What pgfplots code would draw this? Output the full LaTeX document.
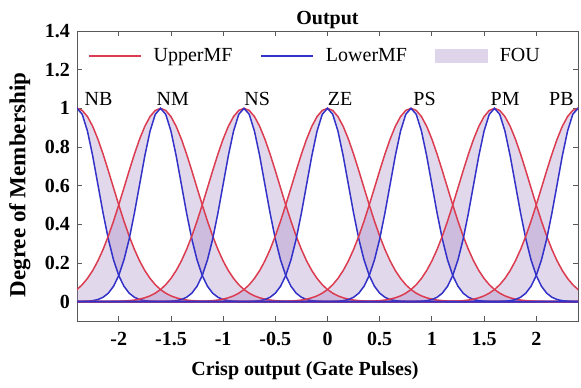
\documentclass[border=0pt]{standalone}
\usepackage{fontspec}
\setmainfont{Liberation Serif}
\usepackage{pgfplots}
\pgfplotsset{compat=1.18}
\usepackage{pgfplotstable}
\usepgfplotslibrary{fillbetween}

\definecolor{umf}{RGB}{220,60,80}
\definecolor{lmf}{RGB}{50,50,200}
\definecolor{fou}{RGB}{150,115,185}

% Interval type-2 Gaussian MF shape around its centre:
% d = offset from centre, u = upper MF, l = lower MF
\pgfplotstableread{
d      u        l
-4.80  0        0
-1.50  0.00006  0
-1.40  0.00021  0
-1.35  0.00038  0
-1.30  0.00067  0
-1.25  0.00116  0
-1.20  0.00197  0
-1.15  0.00328  0
-1.10  0.00533  0
-1.05  0.00849  0
-1.00  0.01323  0
-0.95  0.02017  0.00001
-0.90  0.03010  0.00004
-0.85  0.04394  0.00012
-0.80  0.06277  0.00034
-0.75  0.08778  0.00088
-0.70  0.12014  0.00219
-0.65  0.16084  0.00508
-0.60  0.21075  0.01111
-0.55  0.27027  0.02280
-0.50  0.33915  0.04394
-0.45  0.41649  0.07956
-0.40  0.50055  0.13534
-0.35  0.58870  0.21627
-0.30  0.67757  0.32465
-0.25  0.76315  0.45783
-0.20  0.84113  0.60653
-0.15  0.90726  0.75484
-0.10  0.95767  0.88250
-0.05  0.98925  0.96923
 0.00  1        1
 0.05  0.98925  0.96923
 0.10  0.95767  0.88250
 0.15  0.90726  0.75484
 0.20  0.84113  0.60653
 0.25  0.76315  0.45783
 0.30  0.67757  0.32465
 0.35  0.58870  0.21627
 0.40  0.50055  0.13534
 0.45  0.41649  0.07956
 0.50  0.33915  0.04394
 0.55  0.27027  0.02280
 0.60  0.21075  0.01111
 0.65  0.16084  0.00508
 0.70  0.12014  0.00219
 0.75  0.08778  0.00088
 0.80  0.06277  0.00034
 0.85  0.04394  0.00012
 0.90  0.03010  0.00004
 0.95  0.02017  0.00001
 1.00  0.01323  0
 1.05  0.00849  0
 1.10  0.00533  0
 1.15  0.00328  0
 1.20  0.00197  0
 1.25  0.00116  0
 1.30  0.00067  0
 1.35  0.00038  0
 1.40  0.00021  0
 1.50  0.00006  0
 4.80  0        0
}\mfshape

\begin{document}
\begin{tikzpicture}
\begin{axis}[
  set layers,
  scale only axis, width=250.5pt, height=145pt,
  xmin=-2.4, xmax=2.4, ymin=-0.1, ymax=1.4,
  xtick={-2,-1.5,-1,-0.5,0,0.5,1,1.5,2},
  ytick={0,0.2,0.4,0.6,0.8,1,1.2,1.4},
  /pgf/number format/assume math mode=true,
  ticklabel style={font=\bfseries},
  xticklabel style={yshift=-2pt},
  major tick length=2.5pt,
  axis line style={draw=black!65},
  every tick/.style={draw=black!65},
  title={Output},
  title style={font=\bfseries, yshift=-8.5pt},
  xlabel={Crisp output (Gate Pulses)},
  xlabel style={font=\bfseries, at={(axis description cs:0.455,-0.172)}, anchor=center},
  ylabel={Degree of Membership},
  ylabel style={font=\fontsize{11.5}{14}\selectfont\bfseries, at={(axis description cs:-0.114,0.469)}, anchor=center},
  legend style={draw=none, fill=none, at={(0.477,0.913)}, anchor=center,
    /tikz/every odd column/.append style={column sep=4pt},
    /tikz/every even column/.append style={column sep=12pt}},
  legend columns=3, legend cell align=left,
  legend image code/.code={\draw[#1] (0pt,0pt) -- (26pt,0pt);},
]
\pgfplotsinvokeforeach{0,...,6}{
  \addplot[forget plot, umf, line width=0.75pt, name path=up#1]
    table[x expr=\thisrow{d}+0.8*#1-2.4, y=u]{\mfshape};
  \addplot[forget plot, lmf, line width=0.75pt, name path=lo#1]
    table[x expr=\thisrow{d}+0.8*#1-2.4, y=l]{\mfshape};
  \addplot[forget plot, fill=fou, fill opacity=0.28, draw=none]
    fill between[of=up#1 and lo#1];
}
\addlegendimage{umf, line width=0.75pt}
\addlegendentry{UpperMF}
\addlegendimage{lmf, line width=0.75pt}
\addlegendentry{LowerMF}
\addlegendimage{legend image code/.code={\fill[fou!30!white] (0pt,-3.25pt) rectangle (26pt,3.25pt);}}
\addlegendentry{FOU}

\node[anchor=base west, inner sep=0pt] at (axis cs:-2.33,1.015) {NB};
\node[anchor=base west, inner sep=0pt] at (axis cs:-1.64,1.015) {NM};
\node[anchor=base west, inner sep=0pt] at (axis cs:-0.80,1.015) {NS};
\node[anchor=base west, inner sep=0pt] at (axis cs:0.00,1.015) {ZE};
\node[anchor=base west, inner sep=0pt] at (axis cs:0.82,1.015) {PS};
\node[anchor=base west, inner sep=0pt] at (axis cs:1.56,1.015) {PM};
\node[anchor=base west, inner sep=0pt] at (axis cs:2.12,1.015) {PB};
\end{axis}
\pgfresetboundingbox
\path[use as bounding box]
  ([shift={(-38.5pt,-33pt)}]current axis.south west) rectangle
  ([shift={(1.5pt,15.5pt)}]current axis.north east);
\end{tikzpicture}
\end{document}
